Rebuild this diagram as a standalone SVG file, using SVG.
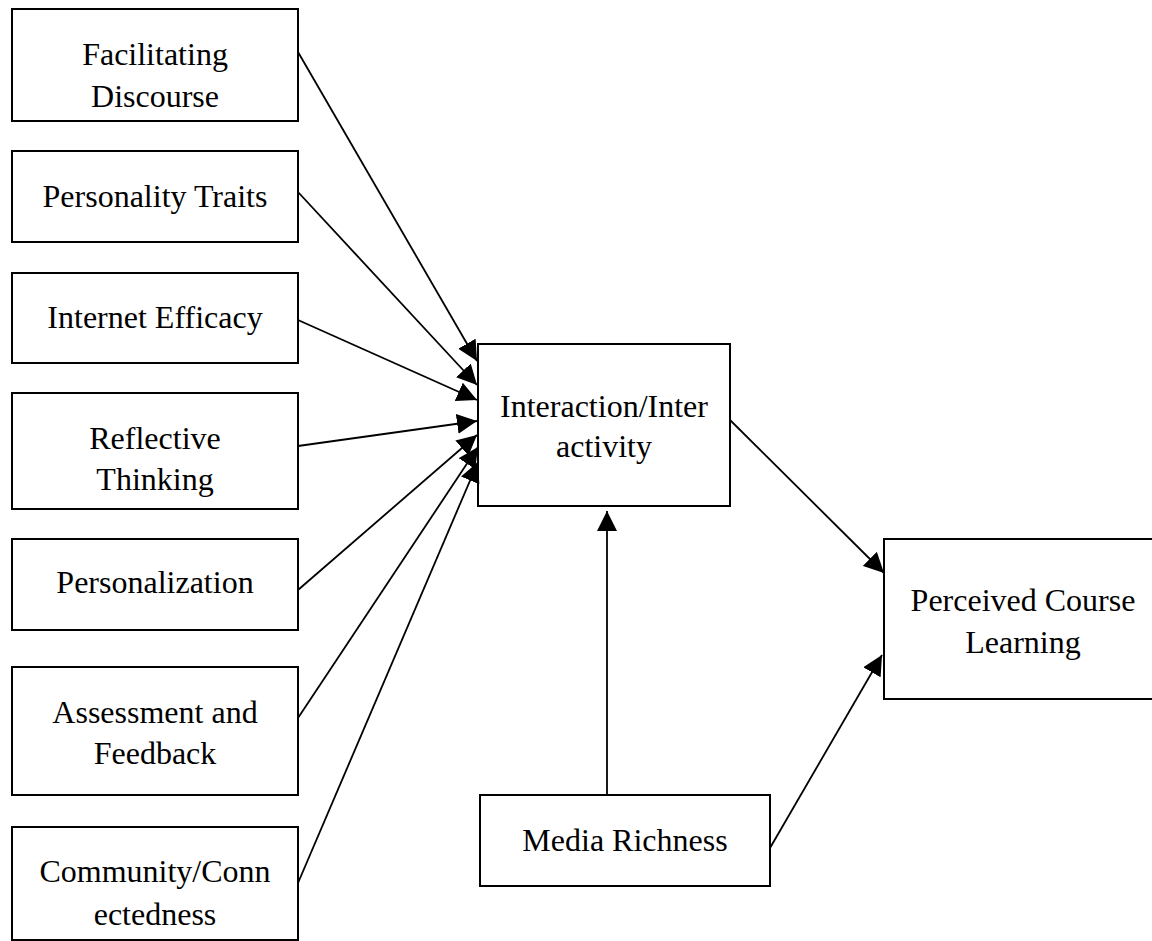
<svg xmlns="http://www.w3.org/2000/svg" width="1152" height="941" viewBox="0 0 1152 941">
<style>
.box{fill:#fff;stroke:#000;stroke-width:2}
.lbl{font-family:"Liberation Serif","Times New Roman",serif;font-size:32px;fill:#000;text-anchor:middle}
.edge{stroke:#000;stroke-width:1.8;fill:none;marker-end:url(#ah)}
</style>
<defs>
<marker id="ah" markerUnits="userSpaceOnUse" markerWidth="20" markerHeight="20" refX="20" refY="10" orient="auto" viewBox="0 0 20 20">
<path d="M0,0 L20,10 L0,20 z" fill="#000"/>
</marker>
</defs>
<rect width="1152" height="941" fill="#fff"/>
<g id="n-facilitating"><rect class="box" x="12" y="9" width="286" height="112"/><text class="lbl" x="155" y="65">Facilitating</text><text class="lbl" x="155" y="107">Discourse</text></g>
<g id="n-personality"><rect class="box" x="12" y="151" width="286" height="91"/><text class="lbl" x="155" y="207">Personality Traits</text></g>
<g id="n-internet"><rect class="box" x="12" y="273" width="286" height="90"/><text class="lbl" x="155" y="328">Internet Efficacy</text></g>
<g id="n-reflective"><rect class="box" x="12" y="393" width="286" height="116"/><text class="lbl" x="155" y="449">Reflective</text><text class="lbl" x="155" y="490">Thinking</text></g>
<g id="n-personalization"><rect class="box" x="12" y="539" width="286" height="91"/><text class="lbl" x="155" y="593">Personalization</text></g>
<g id="n-assessment"><rect class="box" x="12" y="667" width="286" height="128"/><text class="lbl" x="155" y="723">Assessment and</text><text class="lbl" x="155" y="764">Feedback</text></g>
<g id="n-community"><rect class="box" x="12" y="827" width="286" height="113"/><text class="lbl" x="155" y="882">Community/Conn</text><text class="lbl" x="155" y="925">ectedness</text></g>
<g id="n-interaction"><rect class="box" x="478" y="344" width="252" height="162"/><text class="lbl" x="604" y="417">Interaction/Inter</text><text class="lbl" x="604" y="457">activity</text></g>
<g id="n-media"><rect class="box" x="480" y="795" width="290" height="91"/><text class="lbl" x="625" y="851">Media Richness</text></g>
<g id="n-perceived"><rect class="box" x="884" y="539" width="280" height="160"/><text class="lbl" x="1023" y="611">Perceived Course</text><text class="lbl" x="1023" y="653">Learning</text></g>
<g id="connectors">
<line class="edge" x1="298" y1="52" x2="477" y2="361"/>
<line class="edge" x1="298" y1="192" x2="477" y2="385"/>
<line class="edge" x1="298" y1="320" x2="477" y2="400"/>
<line class="edge" x1="298" y1="446" x2="477" y2="421"/>
<line class="edge" x1="298" y1="590" x2="477" y2="435"/>
<line class="edge" x1="298" y1="718" x2="478" y2="447"/>
<line class="edge" x1="298" y1="883" x2="478" y2="462"/>
<line class="edge" x1="730" y1="420" x2="884" y2="573"/>
<line class="edge" x1="607" y1="795" x2="607" y2="511"/>
<line class="edge" x1="770" y1="848" x2="882" y2="655"/>
</g>
</svg>
